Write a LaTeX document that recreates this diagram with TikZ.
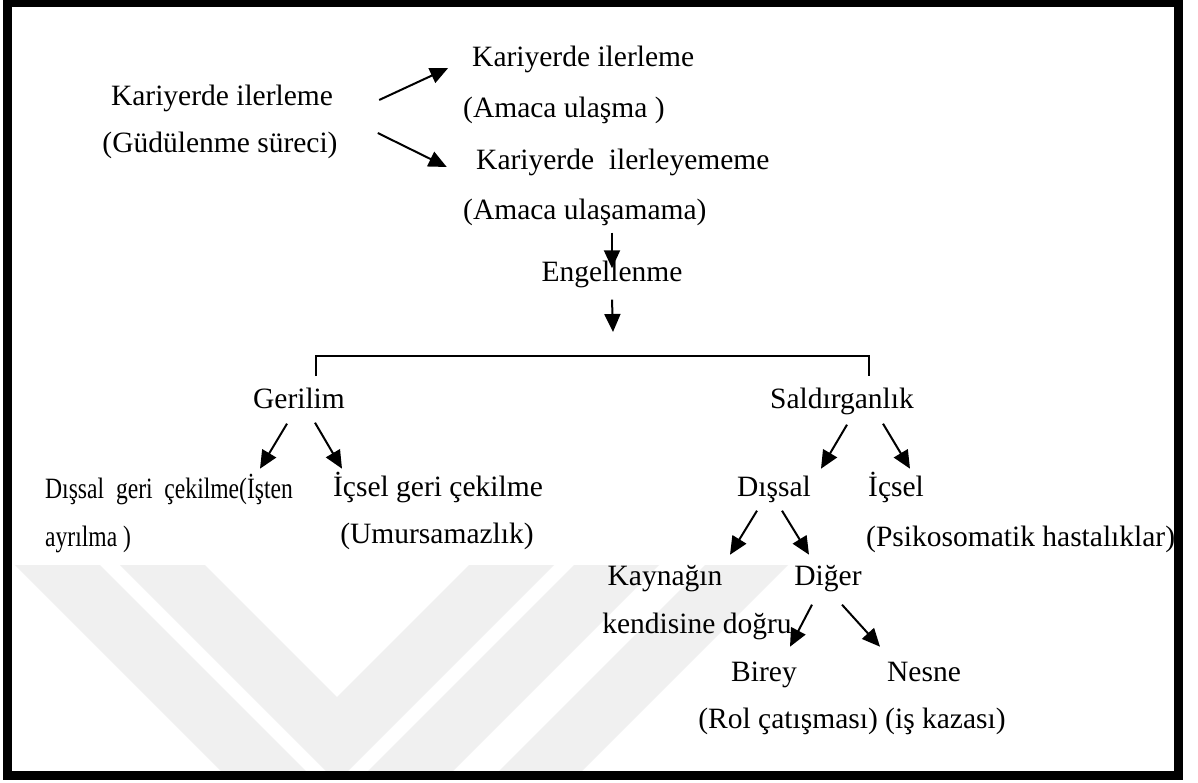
\documentclass[tikz,border=0pt]{standalone}
\usepackage{fontspec}
\setmainfont{Liberation Serif}
\usetikzlibrary{arrows.meta,calc}
\definecolor{wmgray}{HTML}{F0F0F0}
\begin{document}
\begin{tikzpicture}[x=1pt,y=-1pt,
  lbl/.style={inner sep=0pt, font=\fontsize{29.5}{35}\selectfont, text height=20pt, text depth=7pt},
  arr/.style={line width=2pt, -{Triangle[width=16pt,length=18pt]}},
  tie/.style={line width=1.8pt},
  band/.style={fill=wmgray, draw=none}]
\useasboundingbox (0,0) rectangle (1198,783);
\fill[white] (0,0) rectangle (1198,783);

% faint background emblem: nested chevrons
\begin{scope}
  \clip (12,7) rectangle (1174,771);
  \fill[band] (15,565) -- (337,887) -- (659,565) -- (574,565) -- (337,802) -- (100,565) -- cycle;
  \fill[band] (120,565) -- (337,782) -- (554,565) -- (469,565) -- (337,697) -- (205,565) -- cycle;
  \fill[band] (705,565) -- (788,565) -- (570,783) -- (487,783) -- cycle;
\end{scope}

% outer frame
\draw[line width=9pt] (7.5,2.5) rectangle (1178.5,775.5);

% top part
\node[lbl] (k1) at (222,99) {Kariyerde ilerleme};
\node[lbl] (g1) at (220,146) {(Güdülenme süreci)};
\node[lbl,anchor=west] (k2) at (472,60) {Kariyerde ilerleme};
\node[lbl,anchor=west] (a2) at (463,111) {(Amaca ulaşma )};
\node[lbl,anchor=west] (k3) at (476,163) {Kariyerde\ \ ilerleyememe};
\node[lbl,anchor=west] (a3) at (463,213) {(Amaca ulaşamama)};
\node[lbl] (eng) at (612,275) {Engellenme};
\coordinate (brk) at (613,356);

% second level
\node[lbl] (ger) at (299,402) {Gerilim};
\node[lbl] (sal) at (842,402) {Saldırganlık};
\coordinate (bl) at (316,376);
\coordinate (br) at (869,376);

\node[lbl,anchor=west] (dgc) at (45,492) {\scalebox{0.8}[1]{Dışsal\hspace{0.5em}geri\hspace{0.5em}çekilme(İşten}};
\node[lbl,anchor=west] (ayr) at (45,540) {\scalebox{0.8}[1]{ayrılma )}};
\node[lbl] (igc) at (438,490) {İçsel geri çekilme};
\node[lbl] (umu) at (437,537) {(Umursamazlık)};
\node[lbl] (dis) at (774,490) {Dışsal};
\node[lbl,anchor=west] (ics) at (868,490) {İçsel};
\node[lbl,anchor=west] (psi) at (866,540) {(Psikosomatik hastalıklar)};

\node[lbl] (kay) at (665,579) {Kaynağın};
\node[lbl] (ken) at (697,627) {kendisine doğru};
\node[lbl] (dig) at (828,579) {Diğer};
\node[lbl] (bir) at (764,675) {Birey};
\node[lbl] (nes) at (924,675) {Nesne};
\node[lbl] (rol) at (852,722) {(Rol çatışması) (iş kazası)};

% connectors
\draw[arr] ($(k1.east)+(46,1)$) -- ($(k1.east)+(115,-31)$);
\draw[arr] ($(g1.east)+(40,-13)$) -- ($(g1.east)+(109,21)$);
\draw[arr] ($(a3.south -| eng.north)+(0,6)$) -- ($(eng.north)+(0,7)$);
\draw[arr] ($(eng.south)+(0,11)$) -- ($(brk)+(0,-24)$);
\draw[tie] (bl) |- (brk) -| (br);

\draw[arr] ($(ger.south)+(-12,8)$) -- ($(ger.south)+(-39,53)$);
\draw[arr] ($(ger.south)+(16,7)$) -- ($(ger.south)+(43,53)$);
\draw[arr] ($(sal.south)+(5,9)$) -- ($(sal.south)+(-21,53)$);
\draw[arr] ($(sal.south)+(41,8)$) -- ($(sal.south)+(68,53)$);
\draw[arr] ($(dis.south)+(-17,7)$) -- ($(dis.south)+(-44,51)$);
\draw[arr] ($(dis.south)+(8,7)$) -- ($(dis.south)+(35,51)$);
\draw[arr] ($(dig.south)+(-16,12)$) -- ($(dig.south)+(-38,54)$);
\draw[arr] ($(dig.south)+(14,12)$) -- ($(dig.south)+(52,54)$);
\end{tikzpicture}
\end{document}
